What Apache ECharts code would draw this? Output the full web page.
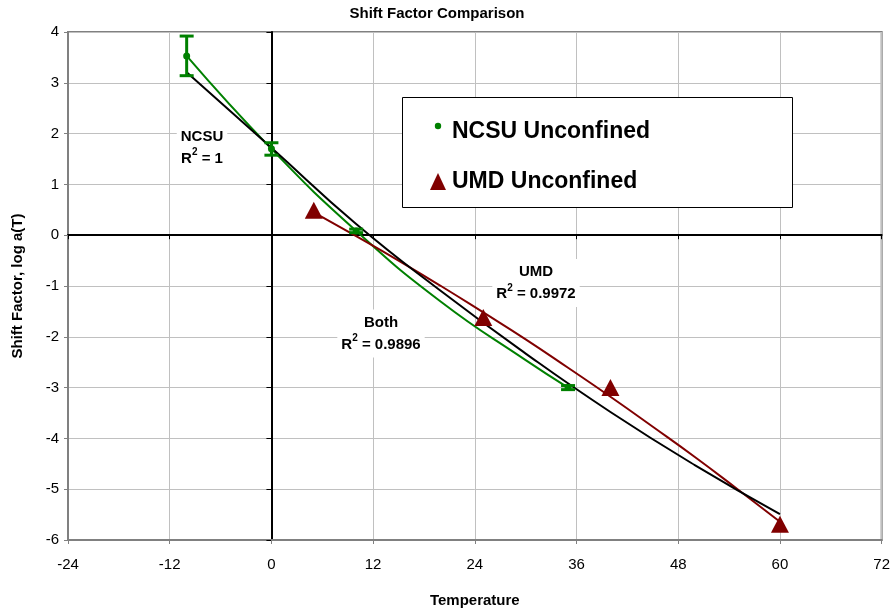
<!DOCTYPE html>
<html>
<head>
<meta charset="utf-8">
<title>Shift Factor Comparison</title>
<script src="https://cdn.jsdelivr.net/npm/echarts@6/dist/echarts.min.js"></script>
<style>
  html, body { margin: 0; padding: 0; background: #fff; }
  #chart { width: 893px; height: 615px; }
</style>
</head>
<body>
<div id="chart"></div>
<script>
// NCSU unconfined shift factors (temperature, log a(T)) with error limits
const ncsuTemp  = [-10, 0, 10, 35];
const ncsuShift = [3.53, 1.70, 0.085, -3.00];
const ncsuLow   = [3.14, 1.575, 0.05, -3.04];
const ncsuHigh  = [3.92, 1.82, 0.12, -2.96];

// UMD unconfined shift factors
const umdTemp  = [5, 25, 40, 60];
const umdShift = [0.49, -1.62, -3.00, -5.69];

// Trend curves, sampled along temperature
const ncsuFitTemp  = [-10, 0, 10, 20, 30, 35];
const ncsuFitShift = [3.53, 1.70, 0.085, -1.31, -2.46, -3.00];
const umdFitTemp   = [5, 10, 15, 20, 25, 30, 35, 40, 45, 50, 55, 60];
const umdFitShift  = [0.45, -0.02, -0.50, -1.00, -1.52, -2.05, -2.61, -3.18, -3.77, -4.37, -5.00, -5.64];
const bothFitTemp  = [-10, 0, 10, 20, 30, 40, 50, 60];
const bothFitShift = [3.21, 1.72, 0.22, -1.10, -2.33, -3.48, -4.53, -5.49];

// Fit annotations
const fitNames = ['NCSU', 'Both', 'UMD'];
const fitR2    = ['1', '0.9896', '0.9972'];

// Legend entries
const legendNames = ['NCSU Unconfined', 'UMD Unconfined'];

// Axis ranges and tick spacing
const xMin = -24, xMax = 72, xStep = 12;
const yMin = -6,  yMax = 4,  yStep = 1;

const FONT = "'Liberation Sans', Arial, sans-serif";
const GREEN = '#008000';
const MAROON = '#800000';

const zip = (xs, ys) => xs.map((x, i) => [x, ys[i]]);

const chart = echarts.init(document.getElementById('chart'), null, { renderer: 'canvas' });

function fitNote(cx, cy, name, r2) {
  return {
    type: 'text', x: cx, y: cy, z: 50,
    style: {
      text: '{b|' + name + '}\n{b|R}{s|2}{b| = ' + r2 + '}',
      align: 'center', verticalAlign: 'middle',
      fill: '#000',
      backgroundColor: '#fff',
      padding: [2, 4],
      rich: {
        b: { fontFamily: FONT, fontWeight: 'bold', fontSize: 15, lineHeight: 22, align: 'center', fill: '#000' },
        s: { fontFamily: FONT, fontWeight: 'bold', fontSize: 10, lineHeight: 15, verticalAlign: 'top', align: 'center', fill: '#000' }
      }
    }
  };
}

function legendText(x, y, label) {
  return {
    type: 'text', x: x, y: y, z: 62,
    style: {
      text: '{t|' + label + '}',
      align: 'left', verticalAlign: 'middle',
      fill: '#000', backgroundColor: '#fff',
      rich: {
        t: { fontFamily: FONT, fontWeight: 'bold', fontSize: 23, lineHeight: 28, fill: '#000' }
      }
    }
  };
}

const option = {
  backgroundColor: '#fff',
  animation: false,
  title: {
    text: 'Shift Factor Comparison',
    left: 437, top: 6, padding: 0, textAlign: 'center',
    textStyle: { fontFamily: FONT, fontSize: 15, fontWeight: 'bold', color: '#000' }
  },
  grid: {
    left: 68, right: 11, top: 32, bottom: 75,
    show: true, borderColor: '#808080', borderWidth: 2, backgroundColor: '#fff'
  },
  xAxis: [
    {
      type: 'value', min: xMin, max: xMax, interval: xStep, position: 'bottom',
      axisLine: { onZero: false, lineStyle: { color: '#808080', width: 2 } },
      axisTick: { show: true, length: 4, lineStyle: { color: '#808080' } },
      axisLabel: { color: '#000', fontSize: 15, fontFamily: FONT, margin: 17 },
      splitLine: { show: true, lineStyle: { color: '#c0c0c0', width: 1 } },
      name: 'Temperature', nameLocation: 'middle', nameGap: 53,
      nameTextStyle: { fontFamily: FONT, fontSize: 15, fontWeight: 'bold', color: '#000' }
    },
    {
      // axis drawn through y = 0
      type: 'value', min: xMin, max: xMax, interval: xStep, position: 'top',
      axisLine: { onZero: true, lineStyle: { color: '#000', width: 2 } },
      axisTick: { show: true, inside: true, length: 4, lineStyle: { color: '#000' } },
      axisLabel: { show: false },
      splitLine: { show: false }
    }
  ],
  yAxis: [
    {
      type: 'value', min: yMin, max: yMax, interval: yStep, position: 'left',
      axisLine: { onZero: false, lineStyle: { color: '#808080', width: 2 } },
      axisTick: { show: true, length: 4, lineStyle: { color: '#808080' } },
      axisLabel: { color: '#000', fontSize: 15, fontFamily: FONT, margin: 9 },
      splitLine: { show: true, lineStyle: { color: '#c0c0c0', width: 1 } },
      name: 'Shift Factor, log a(T)', nameLocation: 'middle', nameGap: 43, nameRotate: 90,
      nameTextStyle: { fontFamily: FONT, fontSize: 15, fontWeight: 'bold', color: '#000' }
    },
    {
      // axis drawn through x = 0
      type: 'value', min: yMin, max: yMax, interval: yStep, position: 'right',
      axisLine: { onZero: true, lineStyle: { color: '#000', width: 2 } },
      axisTick: { show: true, inside: true, length: 5, lineStyle: { color: '#000' } },
      axisLabel: { show: false },
      splitLine: { show: false }
    }
  ],
  series: [
    {
      name: 'NCSU fit', type: 'line', silent: true, smooth: true,
      symbol: 'none', data: zip(ncsuFitTemp, ncsuFitShift),
      lineStyle: { color: GREEN, width: 2 }, z: 3
    },
    {
      name: 'UMD fit', type: 'line', silent: true, smooth: true,
      symbol: 'none', data: zip(umdFitTemp, umdFitShift),
      lineStyle: { color: MAROON, width: 2 }, z: 3
    },
    {
      name: 'Both fit', type: 'line', silent: true, smooth: true,
      symbol: 'none', data: zip(bothFitTemp, bothFitShift),
      lineStyle: { color: '#000', width: 2 }, z: 4
    },
    {
      name: 'NCSU error', type: 'custom', silent: true, z: 5,
      encode: { x: 0, y: [1, 2] },
      data: ncsuTemp.map((t, i) => [t, ncsuLow[i], ncsuHigh[i]]),
      renderItem: function (params, api) {
        const x = api.value(0);
        const lo = api.coord([x, api.value(1)]);
        const hi = api.coord([x, api.value(2)]);
        const hw = 7;
        const style = { stroke: GREEN, lineWidth: 3 };
        return {
          type: 'group',
          children: [
            { type: 'line', shape: { x1: lo[0], y1: lo[1], x2: hi[0], y2: hi[1] }, style: style },
            { type: 'line', shape: { x1: lo[0] - hw, y1: lo[1], x2: lo[0] + hw, y2: lo[1] }, style: style },
            { type: 'line', shape: { x1: hi[0] - hw, y1: hi[1], x2: hi[0] + hw, y2: hi[1] }, style: style }
          ]
        };
      }
    },
    {
      name: legendNames[0], type: 'scatter', z: 6,
      symbol: 'circle', symbolSize: 7,
      itemStyle: { color: GREEN, opacity: 1 },
      data: zip(ncsuTemp, ncsuShift)
    },
    {
      name: legendNames[1], type: 'scatter', z: 6,
      symbol: 'triangle', symbolSize: [18, 17],
      itemStyle: { color: MAROON, opacity: 1 },
      data: zip(umdTemp, umdShift)
    }
  ],
  graphic: [
    fitNote(202, 147.5, fitNames[0], fitR2[0]),
    fitNote(381, 333.5, fitNames[1], fitR2[1]),
    fitNote(536, 283, fitNames[2], fitR2[2]),
    { type: 'rect', z: 60, shape: { x: 402.5, y: 97.5, width: 390, height: 110 },
      style: { fill: '#fff', stroke: '#000', lineWidth: 1 } },
    { type: 'circle', z: 61, shape: { cx: 438, cy: 126, r: 3.2 }, style: { fill: GREEN } },
    { type: 'polygon', z: 61, shape: { points: [[430, 190], [446, 190], [438, 173]] }, style: { fill: MAROON } },
    legendText(452, 132, legendNames[0]),
    legendText(452, 182, legendNames[1])
  ]
};

chart.setOption(option);
</script>
</body>
</html>
